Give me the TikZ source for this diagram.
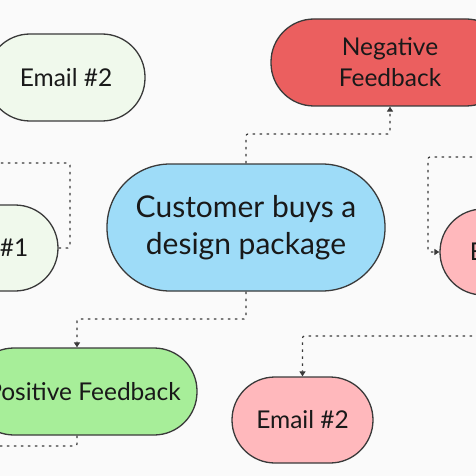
\documentclass[tikz,border=0pt]{standalone}
\usepackage{fontspec}
\setmainfont{Lato}
\usetikzlibrary{arrows.meta}
\definecolor{bgc}{HTML}{FAFAFA}
\definecolor{lgreen}{HTML}{F0F9EC}
\definecolor{redc}{HTML}{EB5F5F}
\definecolor{bluec}{HTML}{9EDCF8}
\definecolor{pinkc}{HTML}{FFB8BC}
\definecolor{greenc}{HTML}{A7EE99}
\definecolor{linec}{HTML}{3A3A3A}
\tikzset{
  pill/.style={draw=linec, line width=1.3pt, rectangle, rounded corners=43pt,
    minimum height=87pt, align=center, inner sep=0pt,
    font=\fontsize{24.5}{31}\selectfont, text=black!90},
  conn/.style={draw=linec, line width=1.2pt, dash pattern=on 2.5pt off 4.5pt, rounded corners=2pt},
  arr/.style={conn, -{Triangle[width=6pt,length=5pt]}}
}
\begin{document}
\begin{tikzpicture}[x=1pt,y=-1pt]
\fill[bgc] (0,0) rectangle (476,476);
\clip (0,0) rectangle (476,476);
\useasboundingbox (0,0) rectangle (476,476);
\node[pill, fill=lgreen, minimum width=158pt] (e2a) at (66,77.5) {Email \#2};
\node[pill, fill=redc, minimum width=238pt] (neg) at (390,62.5) {Negative\\Feedback};
\node[pill, fill=bluec, minimum width=278pt, minimum height=127pt, rounded corners=63pt,
  font=\fontsize{30}{37}\selectfont] (cust) at (246,227.5) {Customer buys a\\design package};
\node[pill, fill=lgreen, minimum width=152pt, minimum height=86pt] (e1a) at (-18,248) {Email \#1};
\node[pill, fill=pinkc, minimum width=152pt, minimum height=86pt] (e1b) at (516,252) {Email \#1};
\node[pill, fill=greenc, minimum width=226pt] (pos) at (84,391.5) {Positive Feedback};
\node[pill, fill=pinkc, minimum width=141pt, minimum height=86pt] (e2b) at (302.5,420) {Email \#2};
\coordinate (o1) at (-10,163);
\coordinate (o2) at (486,157);
\coordinate (o3) at (-10,446);
\coordinate (o4) at (486,336);
\coordinate (c5) at (77,319);
\draw[arr] (cust.north) -- (246,134) -- (390,134) -- (neg.south);
\draw[conn] (e1a.east) -- (70,248) -- (70,163) -- (o1);
\draw[arr] (o2) -- (428,157) -- (428,252) -- (e1b.west);
\draw[arr] (cust.south) -- (246,319) -- (c5) -- (pos.north -| c5);
\draw[conn] (pos.south -| c5) -- (77,446) -- (o3);
\draw[arr] (o4) -- (302.5,336) -- (e2b.north);
\end{tikzpicture}
\end{document}
